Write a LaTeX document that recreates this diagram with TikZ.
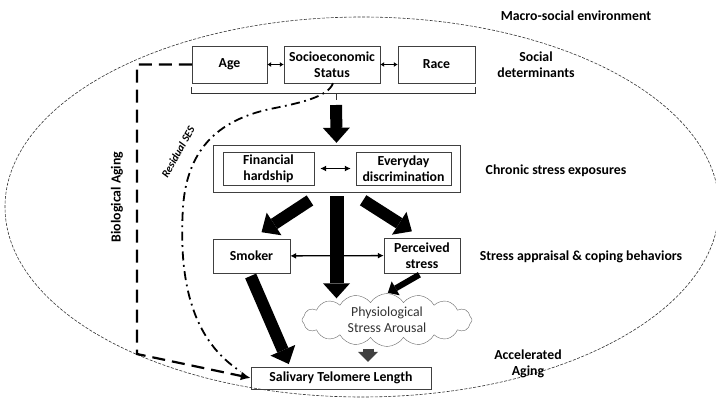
\documentclass[tikz,border=0pt]{standalone}
\usepackage{fontspec}
\setmainfont{Carlito}
\usetikzlibrary{arrows.meta, shapes.symbols}

\begin{document}
\begin{tikzpicture}[
    x=1pt, y=1pt,
    box/.style={
        rectangle,
        draw=black!75,
        align=center,
        inner sep=0pt,
        font=\fontsize{13.8}{16}\selectfont\bfseries
    },
    side/.style={
        align=center,
        font=\fontsize{13.8}{16}\selectfont\bfseries
    },
    bigarrow/.style={-{Triangle[length=15pt,width=27pt,line width=0pt]}, line width=12pt},
    midarrow/.style={-{Triangle[length=9pt,width=16pt,line width=0pt]}, line width=6pt},
    twoway/.style={{Latex[length=6pt,width=6pt]}-{Latex[length=6pt,width=6pt]}, line width=1.3pt},
    tinyway/.style={{Latex[length=4pt,width=5pt]}-{Latex[length=4pt,width=5pt]}, line width=1.2pt}
]
\useasboundingbox (0,0) rectangle (716,397);

% Macro-social environment
\draw[black!80, line width=0.6pt, dash pattern=on 3pt off 1.5pt]
    (362,190) ellipse [x radius=357pt, y radius=190pt];
\node[side] (macro) at (576,381) {Macro-social environment};

% Social determinants
\node[box, minimum width=75pt, minimum height=37pt] (age) at (229.5,332.5) {Age};
\node[box, minimum width=96pt, minimum height=37pt] (ses) at (332,332.5) {Socioeconomic\\Status};
\node[box, minimum width=77pt, minimum height=37pt] (race) at (436.5,332.5) {Race};
\node[side] (social) at (536,332) {Social\\determinants};

\draw[tinyway] (age) -- (ses);
\draw[tinyway] (ses) -- (race);

% Bracket under the determinants
\draw[black!80, line width=0.8pt] ([yshift=-4pt]age.south west) -- ++(0,-6) -| ([yshift=-4pt]race.south east);
\coordinate (brk) at (336,303);
\draw[black!80, line width=0.8pt] (brk) -- ++(0,-6);

% Chronic stress exposures
\node[box, minimum width=247pt, minimum height=47pt] (chronic) at (336.5,228.5) {};
\node[box, minimum width=91pt, minimum height=33pt] (fin) at (268.5,228.5) {Financial\\hardship};
\node[box, minimum width=95pt, minimum height=33pt] (disc) at (403.5,228.5) {Everyday\\discrimination};
\node[side] (chronlab) at (556,226) {Chronic stress exposures};

\draw[bigarrow, shorten <=11pt, shorten >=2pt] (brk) -- (chronic.north);
\draw[twoway] ([xshift=6pt]fin.east) -- ([xshift=-5pt]disc.west);

% Stress appraisal & coping behaviors
\node[box, minimum width=77pt, minimum height=34pt] (smoker) at (251.5,141) {Smoker};
\node[box, minimum width=76pt, minimum height=35pt] (percv) at (422,141.5) {Perceived\\stress};
\node[side] (appraisal) at (581,140) {Stress appraisal \& coping behaviors};

\draw[twoway] (smoker) -- (percv);
\draw[bigarrow, shorten <=15pt, shorten >=12pt] ([xshift=-14pt]chronic.south) -- (smoker.north);
\draw[bigarrow, shorten <=15pt, shorten >=12pt] ([xshift=14pt]chronic.south) -- (percv.north);

% Physiological stress arousal
\node[cloud, draw=black!60, cloud puffs=16, cloud puff arc=115, aspect=4.2,
      minimum width=170pt, minimum height=42pt, inner sep=0pt, align=center,
      text=black!80, font=\fontsize{13.8}{16.5}\selectfont] (cloud) at (387,77) {Physiological\\Stress Arousal};

\draw[bigarrow, line width=14pt, shorten <=4pt, shorten >=-5pt] (chronic.south) -- (chronic.south |- cloud.north);
\draw[midarrow, shorten <=3pt, shorten >=1pt] (percv.south) -- (cloud.north);

% Accelerated aging
\node[box, minimum width=180pt, minimum height=22pt] (telo) at (341,19) {Salivary Telomere Length};
\node[side] (accel) at (528,33) {Accelerated\\Aging};

\draw[-{Triangle[length=10pt,width=20pt,line width=0pt]}, line width=11pt, black!75, shorten <=2pt, shorten >=5pt]
    ([xshift=-19pt]cloud.south) -- ([xshift=27pt]telo.north);
\draw[bigarrow, shorten <=3pt, shorten >=3pt] ([xshift=-2pt]smoker.south) -- ([xshift=-51pt]telo.north);

% Biological aging and residual SES
\coordinate (bl) at (137,43);
\draw[-{Latex[length=10pt,width=9pt]}, line width=2.2pt, dash pattern=on 13pt off 7pt]
    (age.west) -| (bl) -- (telo.west);
\node[side, rotate=90] (bio) at (117,200) {Biological Aging};

\draw[line width=1.8pt, dash pattern=on 9pt off 4.5pt on 1.8pt off 4.5pt, shorten >=12pt]
    ([xshift=1pt]ses.south) .. controls (328,300) and (300,294) .. (270,288)
    .. controls (215,276) and (187,245) .. (183,190)
    .. controls (178,110) and (195,55) .. (telo.west);
\node[font=\fontsize{11}{13}\selectfont\bfseries\itshape, rotate=61] (resid) at (178,245) {Residual SES};

\end{tikzpicture}
\end{document}
